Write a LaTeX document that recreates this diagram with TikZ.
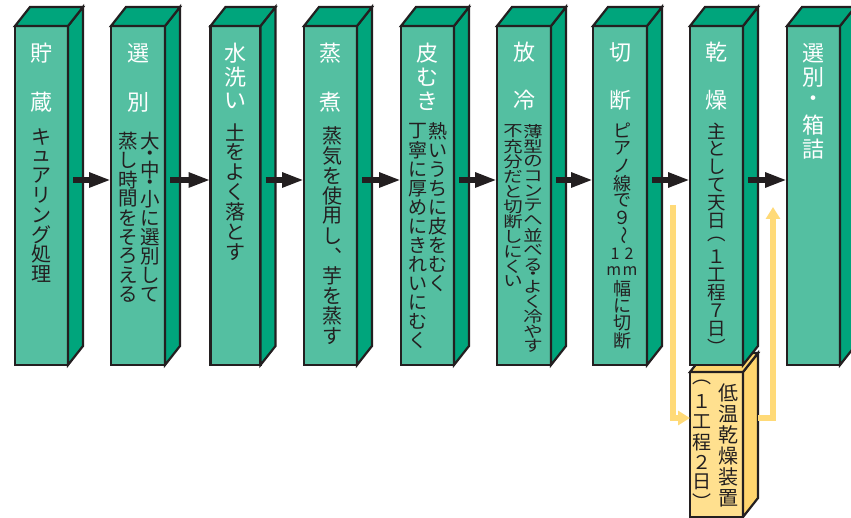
\documentclass[tikz,border=0pt]{standalone}
\usepackage{fontspec}
\usepackage{graphicx}
\usetikzlibrary{arrows.meta,calc}
\newfontfamily\jp{Noto Sans CJK JP}
\newfontfamily\jpw[FakeStretch=1.25]{Noto Sans CJK JP}
\definecolor{gfront}{RGB}{84,191,161}
\definecolor{gside}{RGB}{0,165,124}
\definecolor{ink}{RGB}{35,31,32}
\definecolor{yfrontc}{RGB}{255,224,143}
\definecolor{ysidec}{RGB}{255,213,110}
\definecolor{yarr}{RGB}{255,218,120}
\ExplSyntaxOn
\dim_new:N \l_vp_dim
\cs_new_protected:Npn \Hs #1#2
  { \hbox_to_wd:nn {1em} { \hss \vbox_to_ht:nn { #1 \l_vp_dim } { \vss \hbox:n {#2} \vss } \hss } }
\cs_new_protected:Npn \vp_item:n #1
  { \tl_if_head_eq_meaning:nNTF {#1} \Hs {#1} { \Hs {1} {#1} } }
\NewDocumentCommand \Vs { m m }
  { \dim_set:Nn \l_vp_dim {#1} \vbox { \offinterlineskip \tl_map_inline:nn {#2} { \vp_item:n {##1} } } }
\ExplSyntaxOff
\newcommand\faces[3]{%
  \filldraw[edge, fill=#2] (#1.north east) -- ++(15,-19) -- ($(#1.south east)+(15,-19)$) -- (#1.south east) -- cycle;
  \filldraw[edge, fill=#3] (#1.north west) -- ++(15,-19) -- ($(#1.north east)+(15,-19)$) -- (#1.north east) -- cycle;
}
\begin{document}
\begin{tikzpicture}[x=1pt,y=-1pt,
  edge/.style={draw=ink, line width=2.2pt},
  front/.style={edge, fill=gfront, minimum height=339pt, inner sep=0pt, outer sep=0pt},
  yfront/.style={edge, fill=yfrontc, minimum height=145pt, minimum width=53pt, inner sep=0pt, outer sep=0pt},
  vtext/.style={inner sep=0pt, outer sep=0pt, anchor=north, text=ink},
  title/.style={vtext, text=white, font=\jp\fontsize{22}{22}\selectfont},
  body/.style={vtext, font=\jp\fontsize{#1}{#1}\selectfont},
  bodyw/.style={vtext, font=\jpw\fontsize{#1}{#1}\selectfont},
  blackarrow/.style={draw=ink, line width=6pt, -{Triangle[length=22pt,width=14pt]}},
  yarrow/.style={draw=yarr, line width=5.5pt, -{Triangle[length=12pt,width=14pt]}}]
\useasboundingbox (0,0) rectangle (851,518);
\clip (0,0) rectangle (851,518);
% yellow box (behind)
\node[yfront] (y1) at (716.5,444.5) {};
\faces{y1}{ysidec}{ysidec}
% green boxes
\node[front, minimum width=53pt] (f1) at (41.5,195.5) {};
\node[front, minimum width=54pt] (f2) at (138,195.5) {};
\node[front, minimum width=50pt] (f3) at (235.5,195.5) {};
\node[front, minimum width=53pt] (f4) at (330.5,195.5) {};
\node[front, minimum width=53pt] (f5) at (427.5,195.5) {};
\node[front, minimum width=54pt] (f6) at (524,195.5) {};
\node[front, minimum width=54pt] (f7) at (620,195.5) {};
\node[front, minimum width=53pt] (f8) at (716.5,195.5) {};
\node[front, minimum width=53pt] (f9) at (813.5,195.5) {};
\foreach \n in {f1,f2,f3,f4,f5,f6,f7,f8,f9} {\faces{\n}{gside}{gside}}
% black arrows
\coordinate (ay) at (0,180);
\foreach \a/\b in {f1/f2,f2/f3,f3/f4,f4/f5,f5/f6,f6/f7,f7/f8,f8/f9}
  {\draw[blackarrow] ($(\a.east |- ay)+(5,0)$) -- (\b.west |- ay);}
% yellow arrows
\coordinate (ya) at (673,205);
\coordinate (yb) at (0,418);
\coordinate (yc) at (773,207);
\draw[yarrow] (ya) |- (y1.west |- yb);
\draw[yarrow] ($(y1.east |- yb)+(15,0)$) -| (yc);
% titles
\node[title] (t1) at (41.5,28.5) {\Vs{49pt}{貯蔵}};
\node[title] (t2) at (138,28.5) {\Vs{49pt}{選別}};
\node[title] (t3) at (235.5,41) {\Vs{24pt}{水洗い}};
\node[title] (t4) at (330.5,28.5) {\Vs{49pt}{蒸煮}};
\node[title] (t5) at (427.5,41) {\Vs{24pt}{皮むき}};
\node[title] (t6) at (524,28.5) {\Vs{48pt}{放冷}};
\node[title] (t7) at (620,28.5) {\Vs{48pt}{切断}};
\node[title] (t8) at (716.5,28.5) {\Vs{48pt}{乾燥}};
\node[title] (t9) at (813.5,41) {\Vs{24pt}{選別・箱詰}};
% body texts
\node[body=20] (d1) at (41.5,127) {\Vs{19.6pt}{キュアリング処理}};
\node[body=19.5] (d2a) at (150,132) {\Vs{19.1pt}{大{\Hs{0.5}{・}}中{\Hs{0.5}{・}}小に選別して}};
\node[body=19.5] (d2b) at (128,132) {\Vs{19.1pt}{蒸し時間をそろえる}};
\node[body=20] (d3) at (235.5,122) {\Vs{20pt}{土をよく落とす}};
\node[body=20] (d4) at (332,126) {\Vs{20pt}{蒸気を使用し︑芋を蒸す}};
\node[body=19] (d5a) at (438,122) {\Vs{19pt}{熱いうちに皮をむく}};
\node[body=19] (d5b) at (418,122) {\Vs{19pt}{丁寧に厚めにきれいにむく}};
\node[bodyw=15.5] (d6a) at (533,124) {\Vs{14.8pt}{薄型のコンテへ並べる{\Hs{0.5}{・}}よく冷やす}};
\node[bodyw=15.5] (d6b) at (513,124) {\Vs{15pt}{不充分だと切断しにくい}};
\node[body=18] (d7) at (622,122) {\Vs{17.5pt}{ピアノ線で９{\Hs{1}{\rotatebox[origin=c]{-90}{〜}}}{\Hs{1}{\fontsize{16}{16}\selectfont 1\kern5pt 2}}{\Hs{1}{\fontsize{16}{16}\selectfont m\kern1.5pt m}}幅に切断}};
\node[body=18.5] (d8) at (717,122) {\Vs{18pt}{主として天日︵１工程７日︶}};
\node[body=20] (e1) at (728,382.5) {\Vs{21pt}{低温乾燥装置}};
\node[body=19] (e2) at (702,372) {\Vs{20pt}{︵１工程２日︶}};
\end{tikzpicture}
\end{document}
